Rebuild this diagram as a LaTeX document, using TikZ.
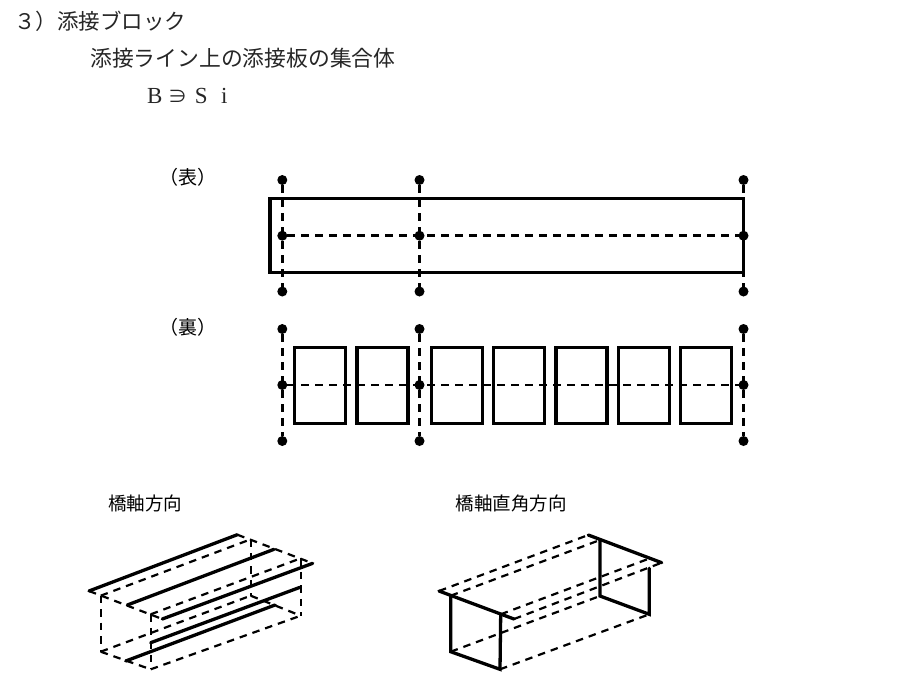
\documentclass[tikz,border=0pt]{standalone}
\usepackage{fontspec}
\setmainfont{Liberation Serif}
\newfontfamily\jp{Noto Sans CJK JP}
\tikzset{
  dotn/.style={circle,fill=black,draw=none,minimum size=10pt,inner sep=0pt,outer sep=0pt},
  plate/.style={draw=black,line width=3.2pt,fill=none,inner sep=0pt,outer sep=0pt,minimum width=#1,minimum height=75.6pt},
  axisdash/.style={draw=black,line width=2.6pt,dash pattern=on 8pt off 6pt},
  isodash/.style={draw=black,line width=2.2pt,dash pattern=on 7.5pt off 6pt},
  isosolid/.style={draw=black,line width=3.3pt,line cap=round},
  headtext/.style={inner sep=0pt,anchor=west,font=\jp\fontsize{21.8pt}{22pt}\selectfont,text=black!85},
  sidetext/.style={inner sep=0pt,font=\jp\fontsize{19pt}{20pt}\selectfont},
  isotext/.style={inner sep=0pt,font=\jp\fontsize{18.5pt}{20pt}\selectfont}
}
\newcommand{\cellbox}[1]{\makebox[23.2pt][c]{#1}}
\begin{document}
\begin{tikzpicture}[x=1pt,y=-1pt]
\useasboundingbox (0,0) rectangle (910,697);
% headings
\node[headtext,font=\jp\fontsize{21.5pt}{22pt}\selectfont] (h1) at (14,21) {３）添接ブロック};
\node[headtext] (h2) at (90,58) {添接ライン上の添接板の集合体};
\node[inner sep=0pt,anchor=west,text=black!85,font=\fontsize{23pt}{24pt}\selectfont] (h3) at (143,96) {\cellbox{B}\cellbox{\jp\fontsize{19pt}{20pt}\selectfont ∋}\cellbox{S}\cellbox{i}};
\node[sidetext] (omote) at (188,177) {（表）};
\node[sidetext] (ura) at (188,327) {（裏）};
\node[isotext] (t1) at (145,503) {橋軸方向};
\node[isotext] (t2) at (511,503) {橋軸直角方向};
% front view
\node[plate=473.5pt,minimum height=74.4pt,anchor=north west] (front) at (270,198.3) {};
\foreach \n/\x in {a/282.3,b/419.5,c/743.5}{
  \node[dotn] (\n1) at (\x,180) {};
  \node[dotn] (\n2) at (\x,235.7) {};
  \node[dotn] (\n3) at (\x,291.5) {};
  \draw[axisdash] (\n1) -- (\n3);
}
\draw[axisdash] (a2) -- (c2);
% rear view
\foreach \i/\x in {1/294.5,2/357,3/431.3,4/493.7,5/556,6/618.4,7/680.7}{
  \node[plate=51pt,anchor=north west] (p\i) at (\x,347.7) {};
}
\foreach \n/\x in {d/282.3,e/419.5,f/743.5}{
  \node[dotn] (\n1) at (\x,329) {};
  \node[dotn] (\n2) at (\x,385) {};
  \node[dotn] (\n3) at (\x,441) {};
  \draw[axisdash] (\n1) -- (\n3);
}
\draw[axisdash] (d2) -- (f2);
% left isometric
\coordinate (A1) at (89,591);      \coordinate (A2) at (237.3,534.7);
\coordinate (B1) at (127.3,605);   \coordinate (B2) at (274,549.3);
\coordinate (C1) at (162.3,619);   \coordinate (C2) at (312.7,563.3);
\coordinate (D1) at (100.7,595.7); \coordinate (D2) at (250.7,539.3);
\coordinate (E1) at (150.7,614.3); \coordinate (E2) at (300.7,558.3);
\coordinate (F1) at (100.7,651.7); \coordinate (F2) at (250.7,595.7);
\coordinate (G1) at (150.7,669.3); \coordinate (G2) at (300.7,615.7);
\coordinate (H1) at (125.7,661);   \coordinate (H2) at (275,605);
\coordinate (I1) at (150.7,642.7); \coordinate (I2) at (300,587.3);
\draw[isodash] (A1) -- (C1);
\draw[isodash] (A2) -- (C2);
\draw[isodash] (D1) -- (D2);
\draw[isodash] (E1) -- (E2);
\draw[isodash] (D1) -- (F1);
\draw[isodash] (E1) -- (G1);
\draw[isodash] (D2) -- (F2);
\draw[isodash] (E2) -- (G2);
\draw[isodash] (F1) -- (G1);
\draw[isodash] (F2) -- (G2);
\draw[isodash] (F1) -- (F2);
\draw[isodash] (G1) -- (G2);
\draw[isosolid] (A1) -- (A2);
\draw[isosolid] (B1) -- (B2);
\draw[isosolid] (C1) -- (C2);
\draw[isosolid] (H1) -- (H2);
\draw[isosolid] (I1) -- (I2);
% right isometric
\coordinate (J1) at (439,591);     \coordinate (J2) at (588.3,535);
\coordinate (K1) at (514,619);     \coordinate (K2) at (661.7,562.7);
\coordinate (L1) at (450.7,595.7); \coordinate (L2) at (600,540);
\coordinate (M1) at (500.7,614.3); \coordinate (M2) at (648,559);
\coordinate (N1) at (450.7,651.7); \coordinate (N2) at (600,596);
\coordinate (O1) at (500,669.3);   \coordinate (O2) at (649.3,614.3);
\coordinate (P2) at (649.3,568.3);
\draw[isodash] (J1) -- (J2);
\draw[isodash] (L1) -- (L2);
\draw[isodash] (M1) -- (M2);
\draw[isodash] (K1) -- (K2);
\draw[isodash] (N1) -- (N2);
\draw[isodash] (O1) -- (O2);
\draw[isosolid] (J1) -- (K1);
\draw[isosolid] (J2) -- (K2);
\draw[isosolid] (L1) -- (N1) -- (O1) -- (M1);
\draw[isosolid] (L2) -- (N2) -- (O2) -- (P2);
\end{tikzpicture}
\end{document}
